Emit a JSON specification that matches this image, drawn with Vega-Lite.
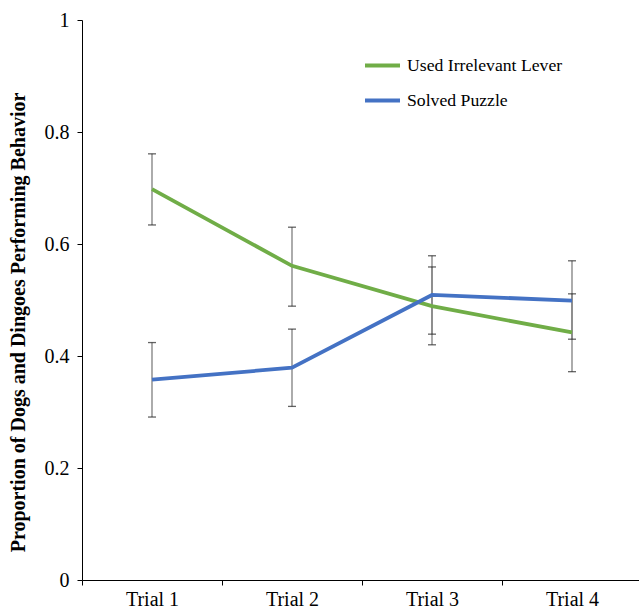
{
  "$schema": "https://vega.github.io/schema/vega-lite/v6.json",
  "autosize": {"type": "none"},
  "padding": {"left": 82, "top": 20, "right": 0, "bottom": 29},
  "width": 560,
  "height": 560,
  "background": "white",
  "config": {
    "view": {"stroke": null},
    "font": "'Liberation Serif', 'Times New Roman', Times, serif",
    "axis": {"labelFont": "'Liberation Serif', 'Times New Roman', Times, serif", "titleFont": "'Liberation Serif', 'Times New Roman', Times, serif", "labelColor": "black", "domainColor": "black", "tickColor": "black", "grid": false},
    "legend": {"labelFont": "'Liberation Serif', 'Times New Roman', Times, serif"}
  },
  "data": {
    "values": [
      {"trial": "Trial 1", "series": "Used Irrelevant Lever", "value": 0.698, "lo": 0.634, "hi": 0.761},
      {"trial": "Trial 2", "series": "Used Irrelevant Lever", "value": 0.561, "lo": 0.489, "hi": 0.630},
      {"trial": "Trial 3", "series": "Used Irrelevant Lever", "value": 0.489, "lo": 0.420, "hi": 0.559},
      {"trial": "Trial 4", "series": "Used Irrelevant Lever", "value": 0.442, "lo": 0.372, "hi": 0.511},
      {"trial": "Trial 1", "series": "Solved Puzzle", "value": 0.358, "lo": 0.291, "hi": 0.424},
      {"trial": "Trial 2", "series": "Solved Puzzle", "value": 0.379, "lo": 0.310, "hi": 0.448},
      {"trial": "Trial 3", "series": "Solved Puzzle", "value": 0.509, "lo": 0.439, "hi": 0.579},
      {"trial": "Trial 4", "series": "Solved Puzzle", "value": 0.499, "lo": 0.430, "hi": 0.570}
    ]
  },
  "encoding": {
    "x": {
      "field": "trial", "type": "nominal", "title": null,
      "scale": {"paddingInner": 0, "paddingOuter": 0},
      "axis": {"labelAngle": 0, "labelFontSize": 20, "tickBand": "extent", "tickSize": 5, "labelPadding": 4, "domainWidth": 1}
    }
  },
  "layer": [
    {
      "mark": {"type": "rule", "color": "#7f7f7f", "strokeWidth": 1.3},
      "encoding": {
        "y": {"field": "lo", "type": "quantitative"},
        "y2": {"field": "hi"}
      }
    },
    {
      "mark": {"type": "tick", "color": "#222222", "size": 8, "thickness": 1.3},
      "encoding": {"y": {"field": "lo", "type": "quantitative"}}
    },
    {
      "mark": {"type": "tick", "color": "#222222", "size": 8, "thickness": 1.3},
      "encoding": {"y": {"field": "hi", "type": "quantitative"}}
    },
    {
      "mark": {"type": "line", "strokeWidth": 3.8},
      "encoding": {
        "y": {
          "field": "value", "type": "quantitative",
          "scale": {"domain": [0, 1], "nice": false},
          "axis": {
            "values": [0, 0.2, 0.4, 0.6, 0.8, 1], "format": ".1~f",
            "labelFontSize": 20, "tickSize": 5, "labelPadding": 8,
            "title": "Proportion of Dogs and Dingoes Performing Behavior",
            "titleFontSize": 20, "titleFontWeight": "bold", "titleColor": "black",
            "titleAngle": 270, "titleX": -64, "titleY": 302, "titleAlign": "center", "titleBaseline": "middle"
          }
        },
        "color": {
          "field": "series", "type": "nominal",
          "scale": {"domain": ["Used Irrelevant Lever", "Solved Puzzle"], "range": ["#70AD47", "#4472C4"]},
          "legend": {
            "title": null, "orient": "none", "legendX": 281, "legendY": 26,
            "symbolType": "stroke", "symbolSize": 1225, "symbolStrokeWidth": 3.8,
            "labelFontSize": 17.7, "labelColor": "black",
            "labelOffset": 5, "rowPadding": 6
          }
        }
      }
    }
  ]
}
